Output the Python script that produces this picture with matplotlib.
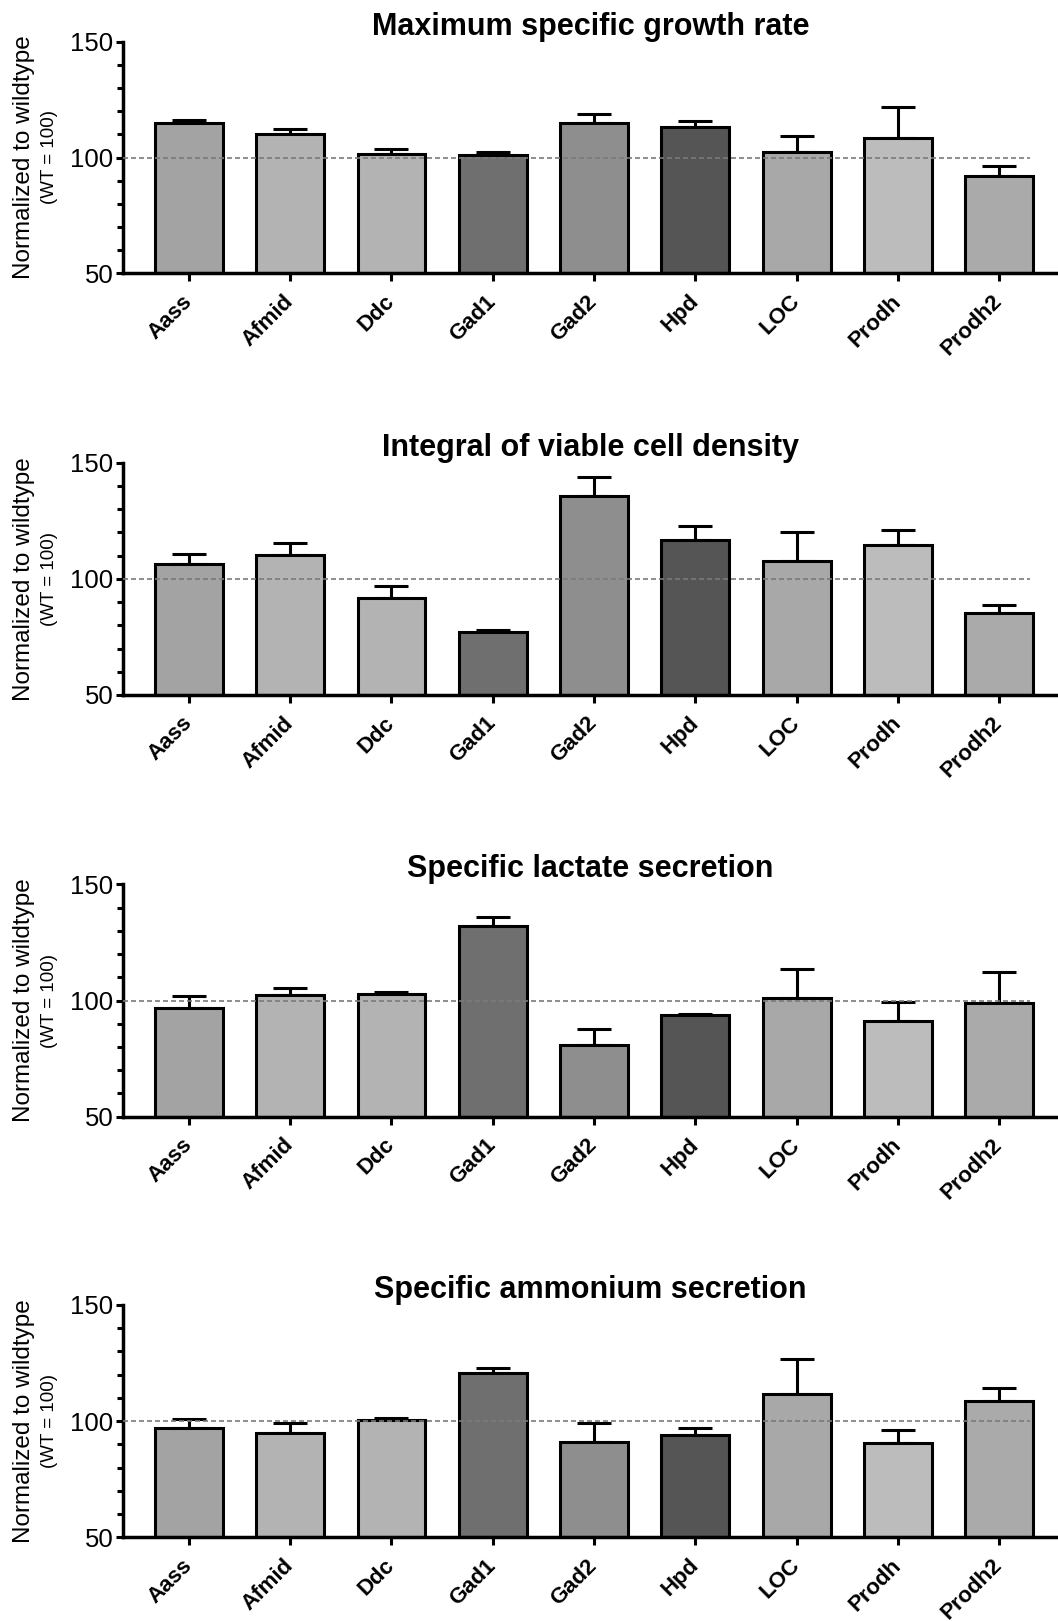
import matplotlib
matplotlib.use("Agg")
import matplotlib.pyplot as plt
from matplotlib.ticker import MultipleLocator

plt.rcParams["font.family"] = ["Liberation Sans", "DejaVu Sans"]

# ---------------------------------------------------------------------------
# Data
# ---------------------------------------------------------------------------

genes = ["Aass", "Afmid", "Ddc", "Gad1", "Gad2", "Hpd", "LOC", "Prodh", "Prodh2"]
bar_grays = ["#a3a3a3", "#b3b3b3", "#b3b3b3", "#6f6f6f", "#8e8e8e",
             "#555555", "#a8a8a8", "#bcbcbc", "#aaaaaa"]

titles = [
    "Maximum specific growth rate",
    "Integral of viable cell density",
    "Specific lactate secretion",
    "Specific ammonium secretion",
]

growth_mean = [114.7, 110.0, 101.5, 101.1, 115.0, 113.0, 102.5, 108.3, 91.9]
growth_err = [1.3, 2.4, 2.2, 1.1, 3.6, 2.9, 6.9, 13.4, 4.6]

ivcd_mean = [106.4, 110.3, 91.6, 77.3, 135.8, 116.7, 107.7, 114.4, 85.2]
ivcd_err = [4.1, 5.0, 5.5, 0.7, 7.9, 6.2, 12.6, 6.6, 3.4]

lactate_mean = [96.9, 102.4, 102.7, 132.1, 81.0, 93.8, 101.2, 91.3, 99.1]
lactate_err = [5.2, 3.0, 1.0, 4.0, 6.6, 0.4, 12.4, 7.9, 13.0]

ammonium_mean = [96.9, 94.8, 100.3, 120.9, 90.9, 94.2, 111.5, 90.5, 108.5]
ammonium_err = [4.0, 4.3, 0.9, 2.0, 8.2, 2.8, 15.4, 5.5, 5.6]

WT = 100

panels = [
    (titles[0], growth_mean, growth_err),
    (titles[1], ivcd_mean, ivcd_err),
    (titles[2], lactate_mean, lactate_err),
    (titles[3], ammonium_mean, ammonium_err),
]

# axes rectangles in pixels of the 1058x1621 canvas
W, H = 1058, 1621
left = 123 / W
width = 1 - left
tops = [41.7, 462.7, 884.3, 1305.0]
bottoms = [273.3, 695.0, 1116.7, 1537.3]

fig = plt.figure(figsize=(W / 100, H / 100), dpi=100)

x = list(range(len(genes)))
lw = 2.2

for (title, mean, err), top, bot in zip(panels, tops, bottoms):
    ax = fig.add_axes([left, 1 - bot / H, width, (bot - top) / H])

    ax.bar(x, [m - 50 for m in mean], bottom=50, width=0.67,
           color=bar_grays, edgecolor="black", linewidth=lw, zorder=2)
    ax.errorbar(x, mean, yerr=[[0] * len(err), err], fmt="none",
                ecolor="black", elinewidth=lw, capsize=12.5, capthick=lw,
                zorder=1)
    # wildtype reference line, drawn over the bars
    ax.axhline(WT, xmin=0, xmax=0.97, color="#7a7a7a", linewidth=1.2,
               linestyle=(0, (3.0, 1.8)), zorder=3)

    ax.set_xlim(-0.65, 8.58)
    ax.set_ylim(50, 150)
    ax.set_yticks([50, 100, 150])
    ax.yaxis.set_minor_locator(MultipleLocator(10))

    for side in ("top", "right"):
        ax.spines[side].set_visible(False)
    for side in ("left", "bottom"):
        ax.spines[side].set_linewidth(2.5)

    ax.tick_params(axis="y", which="major", length=5, width=2.2,
                   labelsize=18.5, pad=2)
    ax.tick_params(axis="y", which="minor", length=4.5, width=2.2)
    ax.tick_params(axis="x", which="major", length=6, width=2.2, pad=12)
    ax.set_xticks(x)
    ax.set_xticklabels(genes, rotation=45, ha="right", va="center",
                       rotation_mode="anchor", fontsize=16,
                       fontweight="bold")

    ax.set_title(title, fontsize=22, fontweight="bold", pad=5)

    yc = 1 - (top + bot) / 2 / H
    fig.text(24 / W, yc, "Normalized to wildtype", rotation=90,
             ha="center", va="center", fontsize=17.5)
    fig.text(49 / W, yc, "(WT = 100)", rotation=90,
             ha="center", va="center", fontsize=13.5)

fig.savefig("out.png", dpi=100)
